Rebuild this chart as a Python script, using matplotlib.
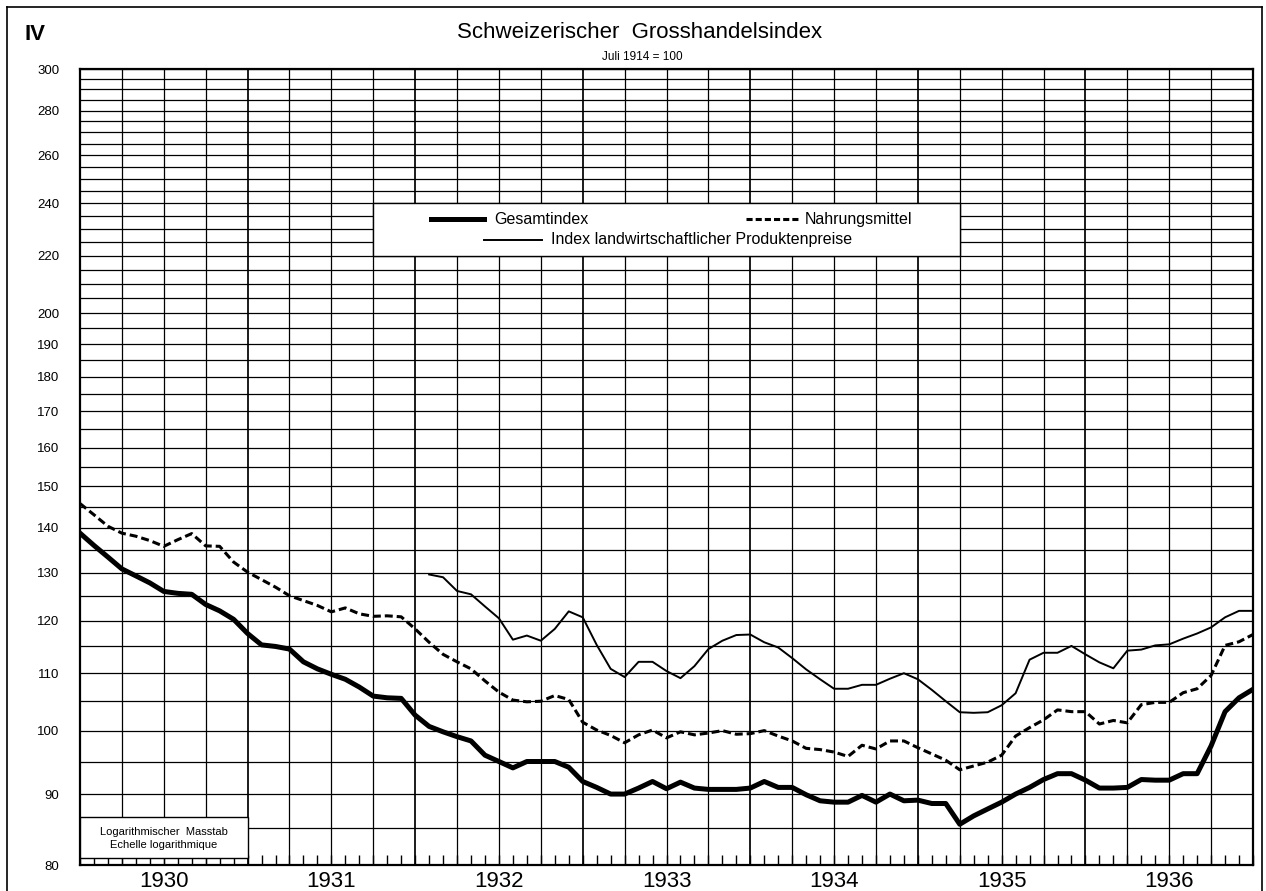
import numpy as np
import matplotlib
matplotlib.use("Agg")
import matplotlib.pyplot as plt
from matplotlib.patches import Rectangle
from matplotlib.lines import Line2D
from matplotlib.transforms import blended_transform_factory

plt.rcParams["font.family"] = ["Liberation Sans", "DejaVu Sans"]

# ---------------------------
# Data (monthly, Jan 1930 .. Jan 1937 grid points, Juli 1914 = 100)
# ---------------------------
years = ["1930", "1931", "1932", "1933", "1934", "1935", "1936"]
y_ticks = [80, 90, 100, 110, 120, 130, 140, 150, 160, 170, 180, 190, 200,
           220, 240, 260, 280, 300]

gesamt = [138.8, 136.0, 133.4, 130.8, 129.3, 127.8, 126.0, 125.6, 125.4, 123.3,
          122.0, 120.3, 117.5, 115.3, 115.0, 114.5, 112.1, 110.8, 109.8, 108.9,
          107.5, 105.9, 105.6, 105.5, 102.6, 100.7, 99.8, 99.0, 98.3, 96.0,
          95.0, 94.0, 95.0, 95.0, 95.0, 94.1, 91.9, 91.0, 90.0, 90.0,
          90.9, 91.9, 90.8, 91.8, 90.9, 90.7, 90.7, 90.7, 90.9, 91.9,
          91.0, 91.0, 89.9, 89.0, 88.8, 88.8, 89.8, 88.8, 90.0, 89.0,
          89.1, 88.6, 88.6, 85.6, 86.8, 87.8, 88.8, 90.0, 91.0, 92.2,
          93.1, 93.1, 92.1, 90.9, 90.9, 91.0, 92.2, 92.1, 92.1, 93.1,
          93.1, 97.5, 103.2, 105.6, 107.1]

nahrung = [145.8, 143.1, 140.4, 138.8, 138.1, 137.1, 135.8, 137.3, 138.7, 135.9,
           135.8, 132.3, 130.1, 128.5, 126.9, 125.1, 124.1, 123.1, 121.8, 122.6,
           121.4, 120.9, 121.0, 120.8, 118.4, 115.8, 113.5, 112.1, 110.8, 108.6,
           106.6, 105.2, 104.9, 105.0, 106.0, 105.3, 101.4, 100.1, 99.2, 98.0,
           99.3, 100.1, 98.8, 99.8, 99.3, 99.6, 100.0, 99.4, 99.5, 100.0,
           99.1, 98.3, 97.1, 96.9, 96.5, 95.8, 97.6, 97.0, 98.3, 98.3,
           97.2, 96.2, 95.2, 93.7, 94.3, 94.9, 96.0, 99.1, 100.5, 101.8,
           103.5, 103.2, 103.2, 101.1, 101.7, 101.3, 104.4, 104.8, 104.8, 106.5,
           107.2, 109.6, 115.2, 115.9, 117.3]

landw_start = 25
landw = [129.6, 129.0, 126.1, 125.4, 122.9, 120.5, 116.3, 117.1, 116.1, 118.4,
         121.9, 120.7, 115.3, 110.8, 109.3, 112.1, 112.1, 110.4, 109.1, 111.3,
         114.5, 116.1, 117.2, 117.3, 115.8, 114.8, 112.8, 110.7, 108.9, 107.2,
         107.2, 107.9, 107.9, 109.0, 110.0, 108.9, 107.0, 105.0, 103.1, 103.0,
         103.1, 104.3, 106.4, 112.5, 113.8, 113.8, 115.1, 113.5, 112.0, 110.9,
         114.2, 114.4, 115.2, 115.4, 116.5, 117.5, 118.7, 120.7, 122.0, 122.0]

months = np.arange(len(gesamt))
landw_x = np.arange(landw_start, landw_start + len(landw))
n_months = 12 * len(years)

# ---------------------------
# Figure
# ---------------------------
W, H = 1266, 891
fig = plt.figure(figsize=(W / 100, H / 100), dpi=100)
ax = fig.add_axes([80 / W, 1 - 865 / H, 1173 / W, 796 / H])
ax.set_yscale("log")
ax.set_xlim(0, n_months)
ax.set_ylim(80, 300)

# grid: every 5 index points, every quarter
for v in range(80, 301, 5):
    ax.axhline(v, color="black", lw=0.9, zorder=1)
for m in range(0, n_months + 1, 3):
    ax.axvline(m, color="black", lw=1.25 if m % 12 == 0 else 0.9, zorder=1)

ax.set_yticks(y_ticks)
ax.set_yticklabels([str(v) for v in y_ticks])
ax.yaxis.set_minor_locator(plt.NullLocator())
ax.tick_params(axis="y", length=0, pad=15, labelsize=9.5)

ax.set_xticks(range(n_months + 1))
ax.set_xticklabels([])
ax.xaxis.set_minor_locator(plt.NullLocator())
ax.tick_params(axis="x", direction="in", length=7, width=1.0)

for s in ax.spines.values():
    s.set_linewidth(1.6)

# series
ax.plot(months, gesamt, color="black", lw=3.6, solid_joinstyle="round", zorder=4)
ax.plot(months, nahrung, color="black", lw=2.2, ls=(0, (2.6, 1.3)), zorder=4)
ax.plot(landw_x, landw, color="black", lw=1.4, solid_joinstyle="round", zorder=4)

# legend box
ax.add_patch(Rectangle((21, 220), 42, 20, facecolor="white", edgecolor="black",
                       lw=1.0, zorder=3))
ax.plot([25.1, 28.9], [233.8, 233.8], color="black", lw=3.6, zorder=5)
ax.text(29.7, 233.8, "Gesamtindex", va="center", fontsize=11.5, zorder=5)
ax.plot([47.7, 51.5], [233.8, 233.8], color="black", lw=2.2, ls=(0, (2.0, 1.0)), zorder=5)
ax.text(51.9, 233.8, "Nahrungsmittel", va="center", fontsize=11.5, zorder=5)
ax.plot([28.9, 33.1], [225.9, 225.9], color="black", lw=1.4, zorder=5)
ax.text(33.7, 225.9, "Index landwirtschaftlicher Produktenpreise", va="center",
        fontsize=11.5, zorder=5)

# scale note box
ax.add_patch(Rectangle((0, 81), 12, 5.6, facecolor="white", edgecolor="black",
                       lw=1.0, zorder=3))
ax.text(6, 84.5, "Logarithmischer  Masstab", ha="center", va="center", fontsize=8, zorder=5)
ax.text(6, 82.7, "Echelle logarithmique", ha="center", va="center", fontsize=8, zorder=5)

# year labels
trans = blended_transform_factory(ax.transData, ax.transAxes)
for i, yr in enumerate(years):
    ax.text(12 * i + 6, -0.021, yr, transform=trans, ha="center", va="center",
            fontsize=16, clip_on=False)

# titles
fig.text(640 / W, 1 - 33 / H, "Schweizerischer  Grosshandelsindex", ha="center",
         va="center", fontsize=16)
fig.text(642 / W, 1 - 57 / H, "Juli 1914 = 100", ha="center", va="center", fontsize=8.5)
fig.text(35 / W, 1 - 34 / H, "IV", ha="center", va="center", fontsize=16, weight="bold")

# outer frame
fig.add_artist(Line2D([7 / W, 7 / W], [0, 1 - 7 / H], transform=fig.transFigure,
                      color="black", lw=1.2))
fig.add_artist(Line2D([7 / W, 1262 / W], [1 - 7 / H, 1 - 7 / H], transform=fig.transFigure,
                      color="black", lw=1.2))
fig.add_artist(Line2D([1262 / W, 1262 / W], [0, 1 - 7 / H], transform=fig.transFigure,
                      color="black", lw=1.2))

fig.savefig("out.png", dpi=100)
